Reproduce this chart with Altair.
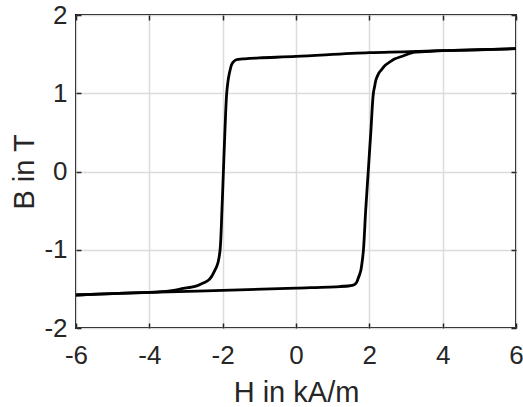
import altair as alt
import pandas as pd

# Descending branch (upper, from +H to -H)
H_desc = [6.0, 4.0, 2.0, 0.0, -1.0, -1.4, -1.57, -1.66, -1.72, -1.76, -1.79, -1.82, -1.85, -1.89,
          -1.94, -1.98, -2.02, -2.07, -2.12, -2.16, -2.21, -2.30, -2.39, -2.50, -2.67, -2.85,
          -3.07, -3.44, -4.0, -5.0, -6.0]
B_desc = [1.57, 1.544, 1.518, 1.47, 1.452, 1.44, 1.432, 1.42, 1.395, 1.36, 1.31, 1.25, 1.17, 1.0,
          0.5, 0.0, -0.5, -1.0, -1.15, -1.21, -1.26, -1.34, -1.39, -1.42, -1.455, -1.478,
          -1.495, -1.525, -1.545, -1.56, -1.578]

# Ascending branch (lower, from -H to +H)
H_asc = [-6.0, -5.0, -4.0, -2.0, 0.0, 1.2, 1.47, 1.57, 1.63, 1.66, 1.70, 1.74, 1.77, 1.80, 1.84,
         1.90, 1.97, 2.04, 2.11, 2.15, 2.18, 2.25, 2.33, 2.44, 2.56, 2.70, 2.88, 3.2, 3.65, 4.0,
         5.0, 6.0]
B_asc = [-1.578, -1.56, -1.545, -1.52, -1.49, -1.47, -1.46, -1.45, -1.43, -1.41, -1.36, -1.31,
         -1.26, -1.17, -1.0, -0.5, 0.0, 0.5, 1.0, 1.10, 1.17, 1.25, 1.30, 1.36, 1.40, 1.44, 1.47,
         1.522, 1.536, 1.544, 1.556, 1.57]

x_ticks = [-6, -4, -2, 0, 2, 4, 6]
y_ticks = [-2, -1, 0, 1, 2]

rows = []
for i, (h, b) in enumerate(zip(H_desc, B_desc)):
    rows.append({"H": h, "B": b, "branch": "desc", "idx": i})
for i, (h, b) in enumerate(zip(H_asc, B_asc)):
    rows.append({"H": h, "B": b, "branch": "asc", "idx": i})
df = pd.DataFrame(rows)

FONT = "Liberation Sans"
TXT = "#262626"

xscale = alt.Scale(domain=[-6, 6], nice=False, zero=False)
yscale = alt.Scale(domain=[-2, 2], nice=False, zero=False)

main = alt.Chart(df).mark_line(color="black", strokeWidth=2.8, strokeJoin="round",
                               interpolate="catmull-rom").encode(
    x=alt.X("H:Q", scale=xscale, axis=alt.Axis(
        orient="bottom", values=x_ticks, grid=True, gridColor="#dcdcdc", gridWidth=1.5,
        domain=False, offset=-5, tickSize=5, tickColor=TXT, tickWidth=1.5,
        labelFont=FONT, labelFontSize=26, labelColor=TXT, labelBaseline="alphabetic",
        labelPadding=35, labelFlush=False, labelOverlap=False,
        labelExpr="datum.value + ''",
        title="H in kA/m", titleFont=FONT, titleFontSize=29, titleFontWeight="normal",
        titleColor=TXT, titleX=220, titleY=78, titleBaseline="alphabetic", titleAlign="center")),
    y=alt.Y("B:Q", scale=yscale, axis=alt.Axis(
        orient="left", values=y_ticks, grid=True, gridColor="#dcdcdc", gridWidth=1.5,
        domain=False, offset=-5, tickSize=5, tickColor=TXT, tickWidth=1.5,
        labelFont=FONT, labelFontSize=26, labelColor=TXT, labelBaseline="middle",
        labelAlign="right", labelPadding=9, labelFlush=False, labelOverlap=False,
        labelExpr="datum.value + ''",
        title="B in T", titleFont=FONT, titleFontSize=29, titleFontWeight="normal",
        titleColor=TXT, titleX=-48, titleY=156.5, titleAngle=-90, titleBaseline="alphabetic",
        titleAlign="center")),
    detail="branch:N",
    order="idx:Q",
)

frame = alt.Chart(df).mark_line(opacity=0).encode(
    x=alt.X("H:Q", scale=xscale, axis=alt.Axis(
        orient="top", values=x_ticks, grid=False, domain=False, offset=-5, tickSize=5,
        tickColor=TXT, tickWidth=1.5, labels=False, title="")),
    y=alt.Y("B:Q", scale=yscale, axis=alt.Axis(
        orient="right", values=y_ticks, grid=False, domain=False, offset=-5, tickSize=5,
        tickColor=TXT, tickWidth=1.5, labels=False, title="")),
    detail="branch:N",
    order="idx:Q",
)

chart = alt.layer(main, frame).resolve_axis(x="independent", y="independent").properties(
    width=440, height=313,
    autosize=alt.AutoSizeParams(type="none"),
    padding={"left": 76, "top": 15, "right": 7, "bottom": 79},
    background="white",
).configure_view(stroke="black", strokeWidth=2)

chart.save("out.html", embed_options={"renderer": "svg", "actions": False})
